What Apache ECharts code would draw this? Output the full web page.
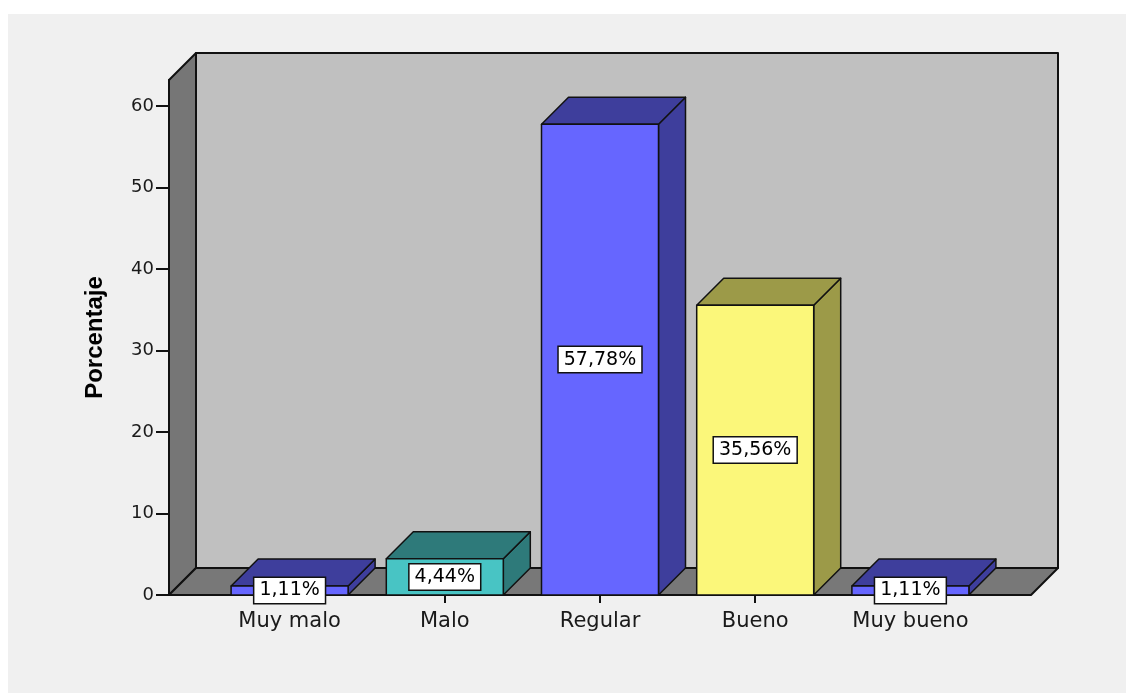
<!DOCTYPE html>
<html><head><meta charset="utf-8">
<script src="https://cdn.jsdelivr.net/npm/echarts@6/dist/echarts.min.js"></script>
<style>
html,body{margin:0;padding:0;background:#ffffff;}
#bg{position:absolute;left:8px;top:14px;width:1118px;height:679px;background:#f0f0f0;}
#c{position:absolute;left:0;top:0;width:1126px;height:693px;}
</style></head>
<body><div id="bg"></div><div id="c"></div>
<script>
const categories = ['Muy malo', 'Malo', 'Regular', 'Bueno', 'Muy bueno'];
const percentages = [1.11, 4.44, 57.78, 35.56, 1.11];
const valueLabels = ['1,11%', '4,44%', '57,78%', '35,56%', '1,11%'];
const yTicks = [0, 10, 20, 30, 40, 50, 60];
const yTitle = 'Porcentaje';

const frontColors = ['#6666ff', '#48c4c4', '#6666ff', '#fbf77a', '#6666ff'];
const shadeColors = ['#3e3e9c', '#2e7a7a', '#3e3e9c', '#9c9a48', '#3e3e9c'];

const DEPTH = 27;
const EXT = 43;
const edge = { stroke: '#111', lineWidth: 2, lineJoin: 'round' };

function renderWalls(params, api) {
  const cs = params.coordSys;
  const x0 = cs.x - EXT, x1 = cs.x + cs.width + EXT;
  const yT = cs.y, yB = cs.y + cs.height, D = DEPTH;
  return {
    type: 'group',
    children: [
      { type: 'rect', shape: { x: x0 + D, y: yT - D, width: x1 - x0, height: yB - yT },
        style: Object.assign({ fill: '#c0c0c0' }, edge) },
      { type: 'polygon', shape: { points: [[x0, yT], [x0 + D, yT - D], [x0 + D, yB - D], [x0, yB]] },
        style: Object.assign({ fill: '#767676' }, edge) },
      { type: 'polygon', shape: { points: [[x0, yB], [x1, yB], [x1 + D, yB - D], [x0 + D, yB - D]] },
        style: Object.assign({ fill: '#787878' }, edge) }
    ]
  };
}

function renderBar(params, api) {
  const i = api.value(0), v = api.value(1);
  const top = api.coord([i, v]);
  const base = api.coord([i, 0]);
  const hw = 58.5, D = DEPTH;
  const L = top[0] - hw, R = top[0] + hw, T = top[1], B = base[1];
  const st = { stroke: '#111', lineWidth: 1.5, lineJoin: 'round' };
  return {
    type: 'group',
    children: [
      { type: 'polygon', shape: { points: [[R, T], [R + D, T - D], [R + D, B - D], [R, B]] },
        style: Object.assign({ fill: shadeColors[i] }, st) },
      { type: 'polygon', shape: { points: [[L, T], [L + D, T - D], [R + D, T - D], [R, T]] },
        style: Object.assign({ fill: shadeColors[i] }, st) },
      { type: 'rect', shape: { x: L, y: T, width: R - L, height: B - T },
        style: Object.assign({ fill: frontColors[i] }, st) },
      { type: 'text', x: top[0], y: (T + B) / 2, z2: 10,
        style: { text: valueLabels[i], font: '19px "DejaVu Sans"', fill: '#000',
          align: 'center', verticalAlign: 'middle', backgroundColor: '#ffffff',
          borderColor: '#111', borderWidth: 1.5, padding: [3, 5] } }
    ]
  };
}

const chart = echarts.init(document.getElementById('c'), null, { renderer: 'canvas' });
chart.setOption({
  backgroundColor: 'transparent',
  animation: false,
  grid: { left: 212, right: 138, top: 80, bottom: 98, containLabel: false },
  xAxis: {
    type: 'category',
    data: categories,
    axisLine: { show: false },
    axisTick: { show: true, alignWithLabel: true, length: 8, lineStyle: { color: '#111', width: 2 } },
    axisLabel: { margin: 16, fontFamily: 'DejaVu Sans', fontSize: 21, color: '#1a1a1a', interval: 0 },
    splitLine: { show: false }
  },
  yAxis: {
    type: 'value',
    min: 0, max: 63.2, interval: 10,
    offset: EXT,
    name: yTitle,
    nameLocation: 'middle',
    nameGap: 62,
    nameTextStyle: { fontFamily: 'Liberation Sans', fontWeight: 'bold', fontSize: 24, color: '#000' },
    axisLine: { show: true, lineStyle: { color: '#111', width: 2 } },
    axisTick: { show: true, customValues: yTicks, length: 13, lineStyle: { color: '#111', width: 2 } },
    axisLabel: { customValues: yTicks, margin: 15, fontFamily: 'DejaVu Sans', fontSize: 18, color: '#1a1a1a' },
    splitLine: { show: false }
  },
  series: [
    { type: 'custom', z: 1, silent: true, clip: false, renderItem: renderWalls, data: [[0, 0]] },
    { type: 'custom', z: 2, silent: true, clip: false, renderItem: renderBar,
      data: categories.map((c, i) => [i, percentages[i]]) }
  ]
});
</script>
</body></html>
